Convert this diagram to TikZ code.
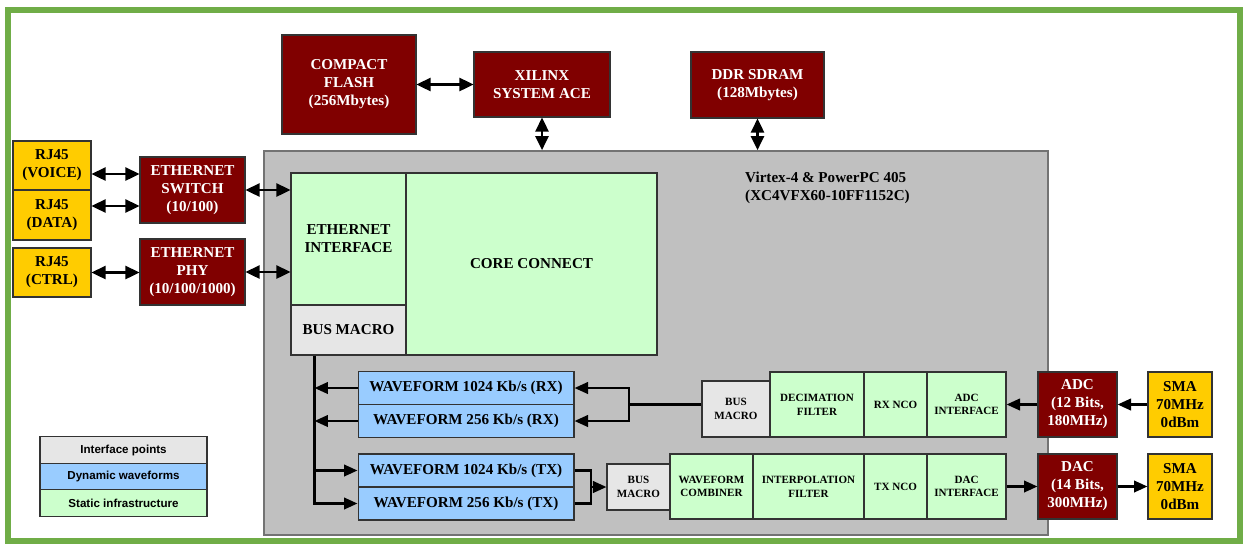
\documentclass[tikz,border=0pt]{standalone}
\usepackage{fontspec}
\setmainfont{Liberation Serif}
\usepackage{tikz}
\newfontfamily\legendfont{Liberation Sans}
\definecolor{maroon}{HTML}{800000}
\definecolor{gold}{HTML}{FFCC00}
\definecolor{mint}{HTML}{CCFFCC}
\definecolor{sky}{HTML}{99CCFF}
\definecolor{pale}{HTML}{E6E6E6}
\definecolor{chip}{HTML}{C0C0C0}
\definecolor{frame}{HTML}{70AD47}
\usetikzlibrary{arrows.meta,calc}
\tikzset{blk/.style={
    draw=black!80,
    line width=0.6pt,
    inner sep=1pt,
    align=center,
    font=\fontsize{8.6}{10.2}\selectfont\bfseries}}
\tikzset{boardbox/.style={
    blk,
    fill=maroon,
    text=white}}
\tikzset{jackbox/.style={
    blk,
    fill=gold}}
\tikzset{staticbox/.style={
    blk,
    fill=mint}}
\tikzset{dynbox/.style={
    blk,
    fill=sky}}
\tikzset{ifacebox/.style={
    blk,
    fill=pale}}
\tikzset{tiny/.style={
    font=\fontsize{6.3}{7.8}\selectfont\bfseries}}
\tikzset{keybox/.style={
    draw=black!80,
    line width=0.6pt,
    minimum width=3.34cm,
    minimum height=0.53cm,
    font=\legendfont\fontsize{6.6}{7.5}\selectfont\bfseries}}
\tikzset{wire/.style={
    draw=black,
    line width=1.4pt}}
\tikzset{link/.style={
    wire,
    -{Triangle[length=0.27cm,width=0.23cm]}}}
\tikzset{duplex/.style={
    wire,
    {Triangle[length=0.28cm,width=0.26cm]}-{Triangle[length=0.28cm,width=0.26cm]}}}

\begin{document}
\begin{tikzpicture}[x=0.02cm, y=-0.02cm]
\useasboundingbox (0,0) rectangle (1243,545);
\draw[draw=frame, line width=0.12cm] (8,10) rectangle (1240,541);

\node[fill=chip,
  draw=black!55,
  line width=1pt,
  minimum width=15.68cm,
  minimum height=7.68cm] (fpga) at (656,343) {};
\node[anchor=west,
  align=left,
  font=\fontsize{8.6}{10.2}\selectfont\bfseries] (fpgalabel) at (739,188)
  {Virtex-4 \& PowerPC 405\\(XC4VFX60-10FF1152C)};

% boards outside the FPGA
\node[boardbox, minimum width=2.68cm, minimum height=1.98cm] (cf) at (349,84.5)
  {COMPACT\\FLASH\\(256Mbytes)};
\node[boardbox, minimum width=2.72cm, minimum height=1.3cm] (ace) at (542,84.5)
  {XILINX\\SYSTEM ACE};
\node[boardbox, minimum width=2.66cm, minimum height=1.32cm] (ddr) at (757.5,85)
  {DDR SDRAM\\(128Mbytes)};

\node[jackbox, minimum width=1.56cm, minimum height=0.98cm] (rjvoice) at (52,165.5)
  {RJ45\\(VOICE)};
\node[jackbox, minimum width=1.56cm, minimum height=1cm] (rjdata) at (52,215)
  {RJ45\\(DATA)};
\node[jackbox, minimum width=1.56cm, minimum height=0.98cm] (rjctrl) at (52,272.5)
  {RJ45\\(CTRL)};
\node[boardbox, minimum width=2.1cm, minimum height=1.32cm] (switch) at (192.5,190)
  {ETHERNET\\SWITCH\\(10/100)};
\node[boardbox, minimum width=2.1cm, minimum height=1.32cm] (phy) at (192.5,272)
  {ETHERNET\\PHY\\(10/100/1000)};

% static part
\node[staticbox, minimum width=2.3cm, minimum height=2.64cm] (ethif) at (348.5,239)
  {ETHERNET\\INTERFACE};
\node[ifacebox, minimum width=2.3cm, minimum height=1cm] (busmacro) at (348.5,330)
  {BUS MACRO};
\node[staticbox, minimum width=5.02cm, minimum height=3.64cm] (core) at (531.5,264)
  {CORE CONNECT};

% waveforms
\node[dynbox, minimum width=4.32cm, minimum height=0.65cm] (wrx1) at (466,388)
  {WAVEFORM 1024 Kb/s (RX)};
\node[dynbox, minimum width=4.32cm, minimum height=0.65cm] (wrx2) at (466,421)
  {WAVEFORM 256 Kb/s (RX)};
\node[dynbox, minimum width=4.32cm, minimum height=0.66cm] (wtx1) at (466,470.5)
  {WAVEFORM 1024 Kb/s (TX)};
\node[dynbox, minimum width=4.32cm, minimum height=0.66cm] (wtx2) at (466,503.5)
  {WAVEFORM 256 Kb/s (TX)};

% receive chain
\node[ifacebox, tiny, minimum width=1.36cm, minimum height=1.12cm] (bmrx) at (736,409)
  {BUS\\MACRO};
\node[staticbox, tiny, minimum width=1.88cm, minimum height=1.3cm] (decim) at (817,404.5)
  {DECIMATION\\FILTER};
\node[staticbox, tiny, minimum width=1.26cm, minimum height=1.3cm] (rxnco) at (895.5,404.5)
  {RX NCO};
\node[staticbox, tiny, minimum width=1.58cm, minimum height=1.3cm] (adcif) at (966.5,404.5)
  {ADC\\INTERFACE};
\node[boardbox, minimum width=1.58cm, minimum height=1.3cm] (adc) at (1077.5,404.5)
  {ADC\\(12 Bits,\\180MHz)};
\node[jackbox, minimum width=1.28cm, minimum height=1.3cm] (smarx) at (1180,404.5)
  {SMA\\70MHz\\0dBm};

% transmit chain
\node[ifacebox, tiny, minimum width=1.26cm, minimum height=0.92cm] (bmtx) at (638.5,487)
  {BUS\\MACRO};
\node[staticbox, tiny, minimum width=1.66cm, minimum height=1.3cm] (comb) at (711.5,486.5)
  {WAVEFORM\\COMBINER};
\node[staticbox, tiny, minimum width=2.22cm, minimum height=1.3cm] (interp) at (808.5,486.5)
  {INTERPOLATION\\FILTER};
\node[staticbox, tiny, minimum width=1.26cm, minimum height=1.3cm] (txnco) at (895.5,486.5)
  {TX NCO};
\node[staticbox, tiny, minimum width=1.58cm, minimum height=1.3cm] (dacif) at (966.5,486.5)
  {DAC\\INTERFACE};
\node[boardbox, minimum width=1.58cm, minimum height=1.3cm] (dac) at (1077.5,486.5)
  {DAC\\(14 Bits,\\300MHz)};
\node[jackbox, minimum width=1.28cm, minimum height=1.3cm] (smatx) at (1180,486.5)
  {SMA\\70MHz\\0dBm};

% legend
\node[keybox, fill=pale] (key1) at (123.5,450) {Interface points};
\node[keybox, fill=sky] (key2) at (123.5,476.5) {Dynamic waveforms};
\node[keybox, fill=mint] (key3) at (123.5,503) {Static infrastructure};

\coordinate (trunk) at ([xshift=0.48cm]busmacro.south west);
\coordinate (rxsplit) at (629,404.5);
\coordinate (txjoin) at (591,487);

  \path[duplex] (cf.east) -- (ace.west);
  \path[duplex] (ace.south) -- (ace.south |- fpga.north);
  \path[duplex] (ddr.south) -- (ddr.south |- fpga.north);
  \path[duplex] ([yshift=0.32cm]switch.west -| rjvoice.east) -- ([yshift=0.32cm]switch.west);
  \path[duplex] ([yshift=-0.32cm]switch.west -| rjdata.east) -- ([yshift=-0.32cm]switch.west);
  \path[duplex] (rjctrl.east) -- (rjctrl.east -| phy.west);
  \path[duplex] (switch.east) -- (switch.east -| ethif.west);
  \path[duplex] (phy.east) -- (phy.east -| ethif.west);

  \path[link] (trunk) |- (wtx2.west);
  \path[link] (trunk |- wtx1.west) -- (wtx1.west);
  \path[link] (wrx1.west) -- (trunk |- wrx1.west);
  \path[link] (wrx2.west) -- (trunk |- wrx2.west);

  \path[wire] (bmrx.west |- decim.west) -- (rxsplit);
  \path[link] (rxsplit) |- (wrx1.east);
  \path[link] (rxsplit) |- (wrx2.east);
  \path[wire] (wtx1.east) -| (txjoin);
  \path[wire] (wtx2.east) -| (txjoin);
  \path[link] (txjoin) -- (bmtx.west);

  \path[link] (smarx.west) -- (adc.east);
  \path[link] (adc.west) -- (adcif.east);
  \path[link] (dacif.east) -- (dac.west);
  \path[link] (dac.east) -- (smatx.west);
\end{tikzpicture}
\end{document}
